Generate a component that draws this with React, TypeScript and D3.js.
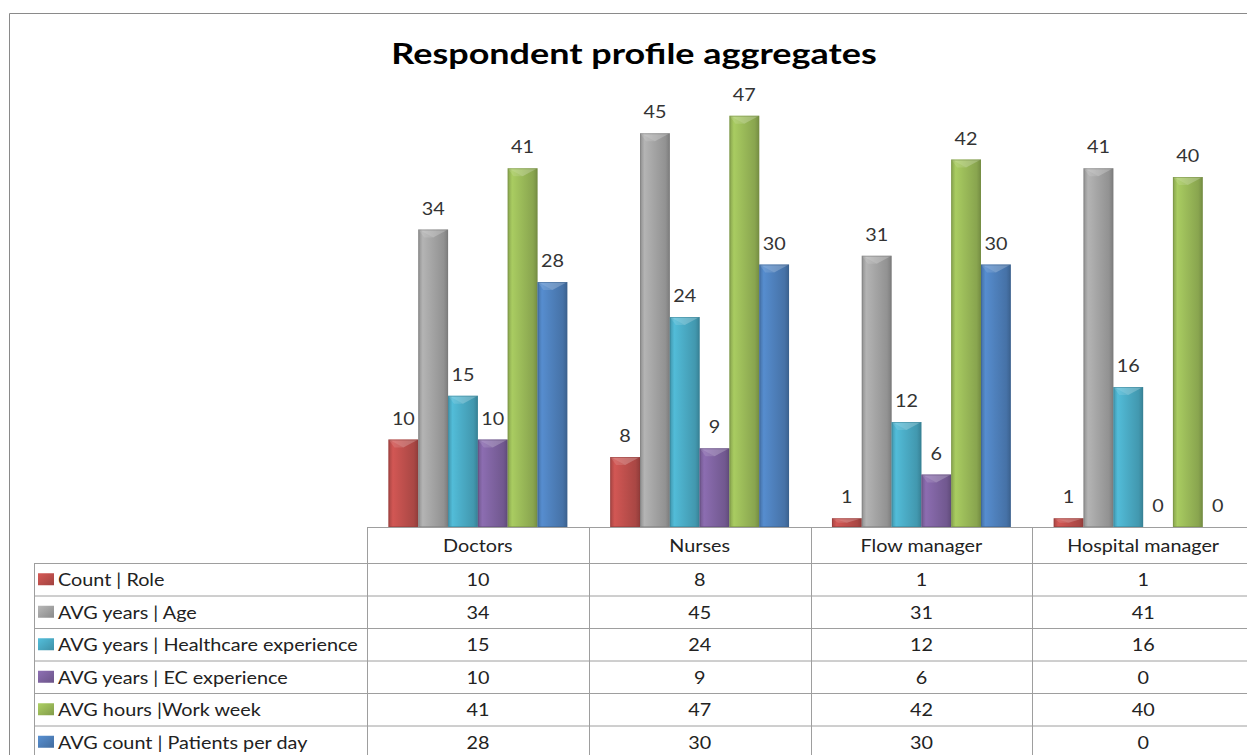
import React from "react";
import * as d3 from "d3";

const categories = ["Doctors", "Nurses", "Flow manager", "Hospital manager"];
const seriesNames = [
  "Count | Role",
  "AVG years | Age",
  "AVG years | Healthcare experience",
  "AVG years | EC experience",
  "AVG hours |Work week",
  "AVG count | Patients per day",
];
const countRole = [10, 8, 1, 1];
const avgAge = [34, 45, 31, 41];
const avgHealthcare = [15, 24, 12, 16];
const avgEC = [10, 9, 6, 0];
const avgWorkWeek = [41, 47, 42, 40];
const avgPatients = [28, 30, 30, 0];
const seriesValues = [countRole, avgAge, avgHealthcare, avgEC, avgWorkWeek, avgPatients];
const seriesColors = ["#c0504d", "#a5a5a5", "#4bacc6", "#8064a2", "#9bbb59", "#4f81bd"];
const yMax = 50;

const W = 1247;
const H = 755;
const baseY = 527;
const tableLeft = 34;
const labelColRight = 367;
const catRight = 1254;
const headerBottom = 563;
const rowH = 32.5;
const gridColor = "#9e9e9e";
const font = "Lato, 'Open Sans', sans-serif";
const stretch = 1.2;
const txtSize = 16.5;

function SText(props: {
  x: number;
  y: number;
  anchor?: "start" | "middle" | "end";
  size?: number;
  weight?: number;
  sx?: number;
  fill?: string;
  children: React.ReactNode;
}) {
  const { x, y, anchor = "middle", size = txtSize, weight = 400, sx = stretch, fill = "#222", children } = props;
  return (
    <text
      transform={`translate(${x},${y}) scale(${sx},1)`}
      textAnchor={anchor}
      fontFamily={font}
      fontSize={size}
      fontWeight={weight}
      fill={fill}
    >
      {children}
    </text>
  );
}

export default function App() {
  const x = d3.scaleBand<string>().domain(categories).range([labelColRight, catRight]);
  const xi = d3
    .scaleBand<number>()
    .domain(d3.range(seriesNames.length))
    .range([0, x.bandwidth()])
    .paddingOuter(0.72)
    .paddingInner(0);
  const y = d3.scaleLinear().domain([0, yMax]).range([baseY, baseY - 437.5]);
  const bw = xi.bandwidth();

  const bars: React.ReactNode[] = [];
  const labels: React.ReactNode[] = [];
  categories.forEach((c, ci) => {
    seriesValues.forEach((vals, si) => {
      const v = vals[ci];
      const x0 = (x(c) ?? 0) + (xi(si) ?? 0);
      const top = y(v);
      const h = baseY - top;
      const cx = x0 + bw / 2;
      if (h > 0) {
        const bev = Math.min(8, h / 2);
        bars.push(
          <g key={`b-${ci}-${si}`}>
            <rect x={x0} y={top} width={bw} height={h} fill={`url(#grad${si})`} />
            <polygon
              points={`${x0},${top} ${x0 + bw},${top} ${cx},${top + bev}`}
              fill="#ffffff"
              opacity={0.22}
            />
            <polygon
              points={`${x0},${top} ${cx},${top + bev} ${x0 + bw * 0.2},${top + bev}`}
              fill="#ffffff"
              opacity={0.12}
            />
            <rect
              x={x0 + 0.5}
              y={top + 0.5}
              width={bw - 1}
              height={Math.max(0, h - 1)}
              fill="none"
              stroke={d3.color(seriesColors[si])!.darker(0.8).formatHex()}
              strokeWidth={1}
              opacity={0.5}
            />
          </g>
        );
      }
      labels.push(
        <SText key={`l-${ci}-${si}`} x={cx} y={top - 15} fill="#333">
          {v}
        </SText>
      );
    });
  });

  const rowYs = seriesNames.map((_, i) => headerBottom + i * rowH);

  return (
    <svg
      width={W}
      height={H}
      style={{ position: "absolute", left: 0, top: 0, background: "#fff" }}
    >
      <defs>
        {seriesColors.map((col, i) => {
          const c = d3.color(col)!;
          return (
            <linearGradient key={i} id={`grad${i}`} x1="0" x2="1" y1="0" y2="0">
              <stop offset="0%" stopColor={c.darker(0.4).formatHex()} />
              <stop offset="15%" stopColor={c.brighter(0.25).formatHex()} />
              <stop offset="45%" stopColor={col} />
              <stop offset="85%" stopColor={c.darker(0.35).formatHex()} />
              <stop offset="100%" stopColor={c.darker(0.8).formatHex()} />
            </linearGradient>
          );
        })}
        {seriesColors.map((col, i) => {
          const c = d3.color(col)!;
          return (
            <linearGradient key={`k${i}`} id={`key${i}`} x1="0" x2="1" y1="0" y2="1">
              <stop offset="0%" stopColor={c.brighter(0.3).formatHex()} />
              <stop offset="100%" stopColor={c.darker(0.5).formatHex()} />
            </linearGradient>
          );
        })}
      </defs>

      {/* outer chart border */}
      <line x1={9.5} y1={13.5} x2={W} y2={13.5} stroke="#8a8a8a" />
      <line x1={9.5} y1={13.5} x2={9.5} y2={H} stroke="#8a8a8a" />

      <SText x={634} y={64} size={29} weight={700} sx={1.24} fill="#000">
        Respondent profile aggregates
      </SText>

      {bars}
      {labels}

      {/* table grid */}
      <line x1={labelColRight} y1={baseY + 0.5} x2={W} y2={baseY + 0.5} stroke={gridColor} />
      {rowYs.map((ry, i) => (
        <line key={`h${i}`} x1={tableLeft} y1={ry + 0.5} x2={W} y2={ry + 0.5} stroke={gridColor} />
      ))}
      <line x1={tableLeft + 0.5} y1={headerBottom} x2={tableLeft + 0.5} y2={H} stroke={gridColor} />
      {categories.map((c) => (
        <line
          key={`v${c}`}
          x1={Math.round(x(c) ?? 0) + 0.5}
          y1={baseY}
          x2={Math.round(x(c) ?? 0) + 0.5}
          y2={H}
          stroke={gridColor}
        />
      ))}

      {categories.map((c) => (
        <SText key={`cat${c}`} x={(x(c) ?? 0) + x.bandwidth() / 2} y={552}>
          {c}
        </SText>
      ))}

      {seriesNames.map((name, si) => {
        const cy = rowYs[si] + rowH / 2;
        return (
          <g key={`row${si}`}>
            <rect x={38} y={cy - 6} width={16} height={12} fill={`url(#key${si})`} />
            <SText x={58} y={cy + 7} anchor="start">
              {name}
            </SText>
            {categories.map((c, ci) => (
              <SText key={`cell${si}-${ci}`} x={(x(c) ?? 0) + x.bandwidth() / 2} y={cy + 7}>
                {seriesValues[si][ci]}
              </SText>
            ))}
          </g>
        );
      })}
    </svg>
  );
}
